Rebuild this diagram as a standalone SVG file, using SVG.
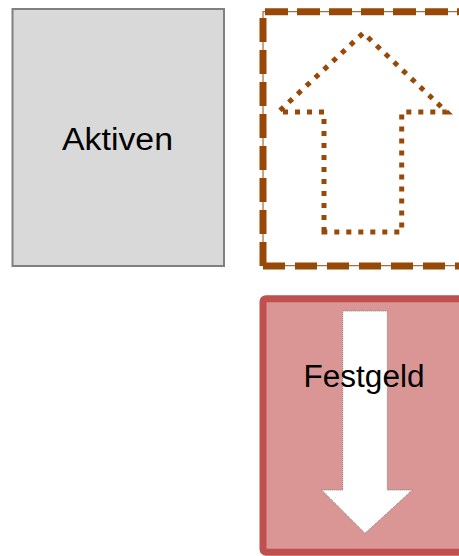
<svg xmlns="http://www.w3.org/2000/svg" width="459" height="556" viewBox="0 0 459 556">
<style>
.lbl{font-family:"Liberation Sans",Arial,sans-serif;font-size:31px;fill:#000;text-anchor:middle}
.brown{fill:none;stroke:#984807}
</style>
<rect width="459" height="556" fill="#fff"/>
<g id="aktiven">
<rect x="12.5" y="9" width="211.5" height="257" fill="#d9d9d9" stroke="#808080" stroke-width="2"/>
<text class="lbl" x="117.5" y="150" textLength="111" lengthAdjust="spacingAndGlyphs">Aktiven</text>
</g>
<g id="box-up">
<rect x="263" y="11.7" width="212" height="254" fill="#fff" stroke="#984807" stroke-width="1"/>
<path class="brown" d="M263 11.7H476" stroke-width="7" stroke-dasharray="23 9" stroke-dashoffset="-2"/>
<path class="brown" d="M263 266V11.7" stroke-width="7" stroke-dasharray="24 8"/>
<path class="brown" d="M263 266H476" stroke-width="7" stroke-dasharray="22 10"/>
<path class="brown" d="M324 232V112H278.3L363.3 33L446.7 112H401.7V232Z" stroke-width="5" stroke-dasharray="5 7"/>
</g>
<g id="festgeld">
<rect x="263" y="298.7" width="212" height="253.5" rx="3" fill="#d99694" stroke="#c0504d" stroke-width="7"/>
<path d="M342.7 311H387.3V490H412.3L365 533.3L321.7 490H342.7Z" fill="#fff" stroke="#7f7f7f" stroke-width="1" stroke-dasharray="1 1"/>
<text class="lbl" x="364" y="387" textLength="121" lengthAdjust="spacingAndGlyphs">Festgeld</text>
</g>
<g id="connectors"/>
</svg>
